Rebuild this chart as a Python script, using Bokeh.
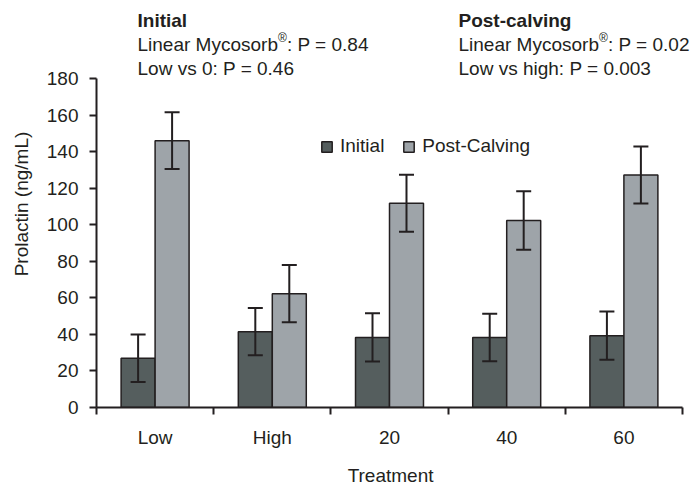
from bokeh.plotting import figure
from bokeh.models import (Range1d, FixedTicker, ColumnDataSource, Whisker, TeeHead,
                          Label, Legend, LegendItem)
from bokeh.embed import file_html
from bokeh.resources import INLINE

categories = ["Low", "High", "20", "40", "60"]
initial = [27, 41.5, 38.3, 38.3, 39.3]
initial_se = [13, 12.9, 13.2, 13.0, 13.2]
post = [146, 62.3, 111.8, 102.3, 127.2]
post_se = [15.5, 15.6, 15.6, 16.0, 15.6]
y_ticks = [0, 20, 40, 60, 80, 100, 120, 140, 160, 180]
y_max = 180

FONT = "Liberation Sans"
DARK = "#231f20"
C_INIT = "#555e5e"
C_POST = "#9ea4a9"
FS = "19px"

n = len(categories)
centers = [i + 0.5 for i in range(n)]
off = 0.145
bw = 0.29

# frame spans the canvas top and right edge; axis lines are bounded to the data extent
frame_h, axis_h = 407, 329
frame_w, axis_w = 604, 586
p = figure(width=700, height=488, output_backend="svg", toolbar_location=None,
           x_range=Range1d(0, n * frame_w / axis_w), y_range=Range1d(0, y_max * frame_h / axis_h),
           min_border_left=96, min_border_right=0, min_border_top=0, min_border_bottom=81)
p.outline_line_color = None
p.xgrid.visible = False
p.ygrid.visible = False
p.background_fill_color = "white"

src_i = ColumnDataSource(dict(x=[c - off for c in centers], top=initial,
                              upper=[v + e for v, e in zip(initial, initial_se)],
                              lower=[v - e for v, e in zip(initial, initial_se)]))
src_p = ColumnDataSource(dict(x=[c + off for c in centers], top=post,
                              upper=[v + e for v, e in zip(post, post_se)],
                              lower=[v - e for v, e in zip(post, post_se)]))

r_i = p.vbar(x="x", top="top", bottom=0, width=bw, source=src_i,
             fill_color=C_INIT, line_color=DARK, line_width=1.5)
r_p = p.vbar(x="x", top="top", bottom=0, width=bw, source=src_p,
             fill_color=C_POST, line_color=DARK, line_width=1.5)

for src in (src_i, src_p):
    w = Whisker(source=src, base="x", upper="upper", lower="lower", dimension="height",
                line_color=DARK, line_width=2, level="overlay",
                upper_head=TeeHead(size=15, line_color=DARK, line_width=2),
                lower_head=TeeHead(size=15, line_color=DARK, line_width=2))
    p.add_layout(w)

# axes
xa = p.xaxis[0]
xa.ticker = FixedTicker(ticks=centers, minor_ticks=list(range(n + 1)))
xa.bounds = (0, n)
xa.major_label_overrides = {c: lab for c, lab in zip(centers, categories)}
xa.major_tick_out = 0
xa.major_tick_in = 0
xa.minor_tick_out = 7
xa.minor_tick_in = 0
xa.minor_tick_line_color = DARK
xa.minor_tick_line_width = 2
# trailing no-break spaces re-centre the label under the bounded axis line
xa.axis_label = "Treatment" + "\u00a0" * 3
xa.major_label_standoff = 12
xa.axis_label_standoff = 14

ya = p.yaxis[0]
ya.ticker = FixedTicker(ticks=y_ticks, minor_ticks=[])
ya.bounds = (0, y_max)
ya.major_tick_out = 7
ya.major_tick_in = 0
ya.axis_label = "Prolactin (ng/mL)"
ya.major_label_standoff = 11
ya.axis_label_standoff = 12

for ax in (xa, ya):
    ax.axis_line_color = DARK
    ax.axis_line_width = 2
    ax.major_tick_line_color = DARK
    ax.major_tick_line_width = 2
    ax.major_label_text_font = FONT
    ax.major_label_text_font_size = FS
    ax.major_label_text_color = DARK
    ax.axis_label_text_font = FONT
    ax.axis_label_text_font_size = FS
    ax.axis_label_text_font_style = "normal"
    ax.axis_label_text_color = DARK

legend = Legend(items=[LegendItem(label="Initial", renderers=[r_i]),
                       LegendItem(label="Post-Calving", renderers=[r_p])],
                orientation="horizontal", location=(224, 250),
                glyph_width=13, glyph_height=13, label_standoff=7, spacing=18,
                padding=0, margin=0, border_line_color=None, background_fill_alpha=0,
                label_text_font=FONT, label_text_font_size=FS, label_text_color=DARK)
p.add_layout(legend, "center")

# annotation texts (screen units from the frame's bottom-left corner)
def add_block(x0, head, l2a, l2b, l3):
    p.add_layout(Label(x=x0, y=387, x_units="screen", y_units="screen", text=head,
                       text_font=FONT, text_font_size=FS, text_font_style="bold",
                       text_color=DARK, text_baseline="alphabetic"))
    p.add_layout(Label(x=x0, y=363, x_units="screen", y_units="screen", text=l2a,
                       text_font=FONT, text_font_size=FS,
                       text_color=DARK, text_baseline="alphabetic"))
    w1 = 7.391 * 19
    p.add_layout(Label(x=x0 + w1, y=370, x_units="screen", y_units="screen", text="®",
                       text_font=FONT, text_font_size="12px",
                       text_color=DARK, text_baseline="alphabetic"))
    p.add_layout(Label(x=x0 + w1 + 9, y=363, x_units="screen", y_units="screen", text=l2b,
                       text_font=FONT, text_font_size=FS,
                       text_color=DARK, text_baseline="alphabetic"))
    p.add_layout(Label(x=x0, y=339, x_units="screen", y_units="screen", text=l3,
                       text_font=FONT, text_font_size=FS,
                       text_color=DARK, text_baseline="alphabetic"))

add_block(41, "Initial", "Linear Mycosorb", ": P = 0.84", "Low vs 0: P = 0.46")
add_block(362, "Post-calving", "Linear Mycosorb", ": P = 0.02", "Low vs high: P = 0.003")

open("out.html", "w").write(file_html(p, INLINE))
